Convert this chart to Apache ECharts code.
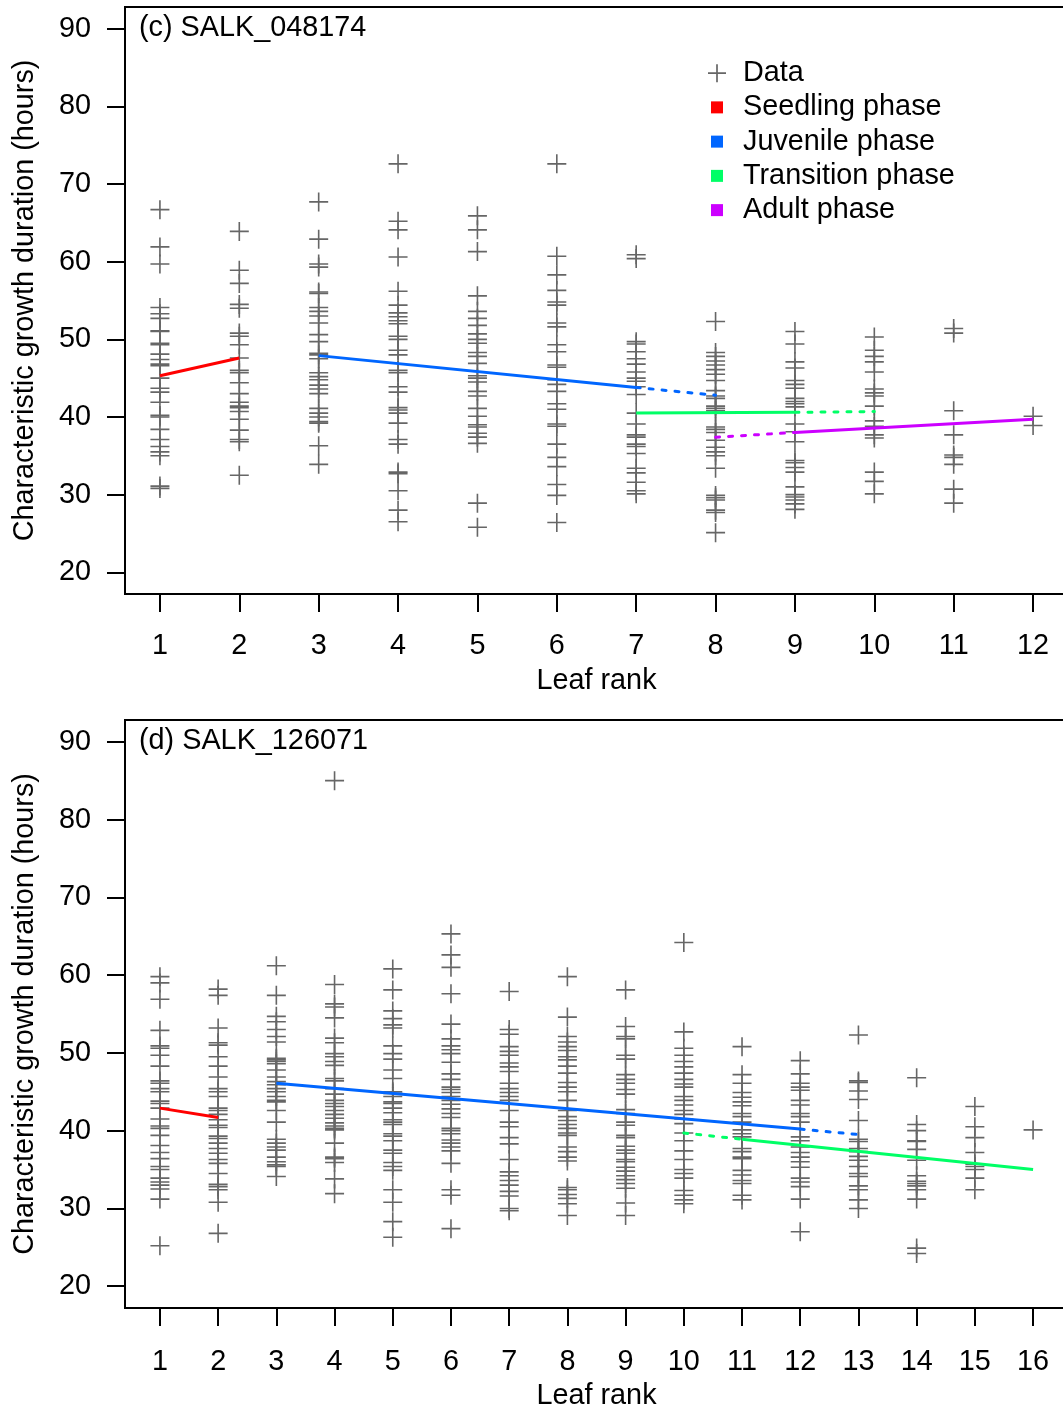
<!DOCTYPE html>
<html>
<head>
<meta charset="utf-8">
<script src="https://cdn.jsdelivr.net/npm/echarts@6/dist/echarts.min.js"></script>
<style>
html,body{margin:0;padding:0;background:#fff;overflow:hidden;width:1063px;height:1412px;}
#chart{width:1075px;height:1412px;}
</style>
</head>
<body>
<div id="chart"></div>
<script>
// ---------- Panel (c) SALK_048174 : values per leaf rank ----------
const cRanks = [1,2,3,4,5,6,7,8,9,10,11,12];
const cValues = [
  [66.7,61.9,59.7,54.1,53.3,52.7,51.1,51.0,49.5,49.3,48.1,47.4,46.8,46.6,45.0,43.7,43.2,41.9,40.2,40.0,38.4,37.1,36.2,35.5,35.0,31.1,30.8],
  [63.9,58.9,57.2,54.5,54.0,50.8,50.4,49.3,47.6,46.0,45.7,44.4,43.0,41.9,41.4,41.2,40.7,39.7,38.3,37.1,36.8,32.5],
  [67.7,62.9,59.7,59.3,56.1,55.9,54.1,53.6,53.0,52.1,50.6,49.7,48.2,48.0,47.5,45.7,45.2,44.8,44.1,43.6,43.0,41.1,40.5,40.0,39.4,39.2,36.3,33.9],
  [72.6,65.2,64.1,60.6,56.2,54.4,53.4,52.9,52.4,52.0,50.4,50.0,48.6,48.0,46.0,45.7,43.9,43.2,41.2,40.9,40.5,39.2,37.1,36.5,32.9,32.7,30.5,28.0,26.5],
  [65.9,64.1,61.3,55.6,53.6,52.7,51.8,50.7,50.0,49.5,48.3,47.8,46.9,45.3,45.0,44.5,43.3,42.7,41.1,40.1,39.0,38.7,37.9,37.4,36.6,28.9,25.8],
  [72.6,60.7,58.3,56.3,54.8,54.4,52.1,51.6,49.3,48.4,46.7,46.4,44.8,44.2,43.3,41.7,41.0,39.1,38.8,36.5,34.8,33.6,31.3,29.9,26.4],
  [60.9,60.4,49.7,49.4,48.4,47.5,46.8,45.8,45.0,44.6,43.9,42.9,40.5,39.1,37.7,37.4,36.5,36.2,35.3,33.4,32.8,31.6,30.5,30.1],
  [52.3,48.3,47.8,47.2,46.7,46.1,45.5,44.7,43.4,42.7,42.4,41.4,41.1,40.8,38.7,38.4,38.0,37.0,36.1,35.5,35.0,33.4,29.9,29.6,29.3,28.0,27.7,25.1],
  [51.0,49.4,47.1,46.3,44.7,44.2,43.7,42.4,42.0,41.7,41.3,39.1,38.1,36.8,34.4,34.1,33.5,32.9,31.0,30.0,29.7,29.3,28.8,28.1],
  [50.3,48.6,47.8,47.1,45.8,43.6,43.1,42.7,41.4,39.5,38.8,37.7,37.3,32.9,31.7,30.1],
  [51.4,50.8,40.8,37.7,35.1,34.8,33.9,30.7,28.9],
  [40.1,38.9]
];
const cSeedling = [[1,45.3],[2,47.6]];
const cJuvenile = [[3,47.9],[7,43.8]];
const cJuvenileExt = [[7,43.8],[8,42.8]];
const cTransition = [[7,40.5],[9,40.6]];
const cTransitionExt = [[9,40.6],[10,40.7]];
const cAdultExt = [[8,37.4],[9,38.0]];
const cAdult = [[9,38.0],[12,39.7]];

// ---------- Panel (d) SALK_126071 ----------
const dRanks = [1,2,3,4,5,6,7,8,9,10,11,12,13,14,15,16];
const dValues = [
  [59.8,59.0,56.9,52.9,50.9,50.6,49.7,48.3,46.4,46.1,45.4,45.0,43.8,43.5,42.9,41.5,40.6,40.3,39.4,38.1,37.2,36.4,35.4,35.0,33.9,33.4,33.0,32.5,31.2,25.2],
  [58.2,57.4,53.2,51.3,51.0,49.5,48.3,46.9,45.4,45.0,44.4,42.9,42.6,42.1,41.4,40.7,40.4,39.3,39.0,38.4,37.7,37.1,36.3,35.8,34.5,33.1,32.8,32.4,30.8,26.8],
  [61.2,57.4,54.7,54.0,53.0,52.1,51.4,49.3,49.1,48.9,48.6,47.8,46.9,46.3,45.9,45.4,45.0,44.4,43.9,43.7,42.6,41.1,38.9,38.4,37.9,37.5,36.6,36.0,35.6,35.4,34.1],
  [85.0,58.8,56.3,55.9,54.5,51.9,51.3,49.9,49.5,48.9,48.4,46.7,46.4,45.4,44.7,43.9,43.5,43.1,42.6,42.1,41.6,41.0,40.6,40.3,40.1,38.4,36.6,36.4,35.9,33.8,31.9],
  [60.8,58.1,55.4,54.4,53.6,53.2,50.9,49.9,49.2,47.8,46.7,45.0,44.8,44.4,43.7,43.5,42.9,42.3,41.4,41.1,40.8,39.6,39.3,38.7,37.5,37.1,35.9,35.4,34.9,32.4,30.8,28.3,26.3],
  [65.3,62.6,61.0,57.6,53.7,51.8,50.9,50.4,49.9,48.8,47.3,46.6,45.6,45.3,44.9,44.4,43.9,43.4,42.8,42.2,41.7,40.3,40.0,39.6,38.8,38.4,37.9,37.4,35.8,32.4,31.7,27.4],
  [57.9,53.0,52.4,50.8,50.2,49.7,48.7,48.2,47.6,46.1,45.4,44.9,44.4,43.9,42.6,41.1,40.5,39.1,38.3,36.3,34.7,34.2,33.6,33.0,32.2,31.6,30.0,29.7],
  [59.8,54.6,52.1,51.4,50.8,50.3,49.5,49.1,48.3,47.4,46.2,45.6,45.0,43.9,42.6,41.8,41.3,40.8,40.3,39.7,39.4,37.9,37.3,36.6,36.1,32.7,32.4,31.8,31.3,30.6,29.1],
  [58.1,53.4,52.1,51.8,49.7,49.2,47.2,46.6,46.1,45.3,44.7,42.7,42.2,41.1,40.7,39.4,39.1,38.0,37.5,37.1,36.3,36.0,35.3,34.8,34.2,33.7,33.2,32.6,30.7,29.1],
  [64.2,52.7,50.6,49.7,48.9,48.2,47.4,46.6,46.0,45.6,44.4,43.9,43.3,42.6,42.1,41.5,40.9,39.7,38.7,37.4,36.3,35.0,34.5,33.9,32.3,31.7,31.1,30.6],
  [50.8,47.2,46.1,44.9,44.3,43.7,43.2,42.2,41.8,41.1,40.1,39.6,39.2,37.7,37.3,36.6,36.4,34.9,34.3,33.6,33.2,31.7,31.1],
  [49.0,47.3,46.1,45.6,45.2,43.9,43.3,42.2,41.8,41.1,39.2,38.7,37.9,37.2,36.6,36.0,35.3,33.9,33.4,32.8,31.2,27.0],
  [52.3,46.4,46.2,45.1,44.0,41.3,38.9,38.6,37.7,37.3,36.7,36.2,35.4,34.5,34.1,32.9,32.4,31.1,30.0],
  [46.8,40.8,40.0,38.7,38.6,37.6,36.2,34.2,33.5,33.2,32.9,32.4,31.2,24.9,24.2],
  [43.1,40.5,39.1,37.2,35.7,35.4,35.0,33.9,32.4],
  [40.1]
];
const dSeedling = [[1,42.9],[2,41.7]];
const dJuvenile = [[3,46.1],[12,40.2]];
const dJuvenileExt = [[12,40.2],[13,39.5]];
const dTransitionExt = [[10,39.7],[11,38.9]];
const dTransition = [[11,38.9],[16,35.0]];

const yTicks = [20,30,40,50,60,70,80,90];
const panelTitles = ['(c) SALK_048174', '(d) SALK_126071'];
const legendNames = ['Data','Seedling phase','Juvenile phase','Transition phase','Adult phase'];

// ---------- styling ----------
const FONT = 'Liberation Sans, Arial, sans-serif';
const FS = 28.8;
const C_RED = '#FF0000', C_BLUE = '#0066FF', C_GREEN = '#00FF66', C_PURPLE = '#CC00FF', C_DATA = '#666666';
const plusSymbol = 'path://M-0.85,-10H0.85V10H-0.85ZM-10,-0.85H10V0.85H-10Z';
const plusIcon = 'path://M0,0L0,0M31,18L31,18M9.15,0H10.85V18H9.15ZM1,8.15H19V9.85H1Z';
const sqIcon = 'path://M0,0L0,0M31,18L31,18M4,3H16V15H4Z';
const dotted = [4, 9];

function flatten(ranks, values) {
  const out = [];
  ranks.forEach((r, i) => values[i].forEach(v => out.push([r, v])));
  return out;
}

function xAxisCfg(gi, min, max, ticks, labelMargin, gap) {
  return {
    gridIndex: gi, type: 'value', min: min, max: max,
    axisLine: {show: false},
    splitLine: {show: false},
    axisTick: {show: true, length: 18, lineStyle: {color: '#000', width: 2}, customValues: ticks},
    axisLabel: {customValues: ticks, margin: labelMargin, fontSize: FS, color: '#000', fontFamily: FONT},
    name: 'Leaf rank', nameLocation: 'middle', nameGap: gap,
    nameTextStyle: {fontSize: FS, color: '#000', fontFamily: FONT}
  };
}
function yAxisCfg(gi) {
  return {
    gridIndex: gi, type: 'value', min: 17.2, max: 92.8,
    axisLine: {show: false},
    splitLine: {show: false},
    axisTick: {show: true, length: 18, lineStyle: {color: '#000', width: 2}, customValues: yTicks},
    axisLabel: {customValues: yTicks, margin: 34, fontSize: FS, color: '#000', fontFamily: FONT},
    name: 'Characteristic growth duration (hours)', nameLocation: 'middle', nameGap: 85, nameRotate: 90,
    nameTextStyle: {fontSize: FS, color: '#000', fontFamily: FONT}
  };
}
function lineSeries(name, gi, data, color, dashed) {
  return {
    name: name, type: 'line', xAxisIndex: gi, yAxisIndex: gi, data: data,
    symbol: 'none', showSymbol: false, silent: true, z: 5, color: color,
    itemStyle: {color: color},
    lineStyle: {color: color, width: 3, type: dashed ? dotted : 'solid', cap: dashed ? 'round' : 'butt'}
  };
}
function scatterSeries(gi, data) {
  return {
    name: 'Data', type: 'scatter', xAxisIndex: gi, yAxisIndex: gi, data: data,
    symbol: plusSymbol, symbolSize: 19, silent: true, z: 2,
    color: C_DATA, itemStyle: {color: C_DATA, opacity: 1}
  };
}

const chart = echarts.init(document.getElementById('chart'), null, {renderer: 'canvas'});
chart.setOption({
  animation: false,
  backgroundColor: '#fff',
  title: [
    {text: panelTitles[0], left: 139, top: 14, padding: 0, textStyle: {fontSize: FS, fontWeight: 'normal', color: '#000', fontFamily: FONT}},
    {text: panelTitles[1], left: 139, top: 727, padding: 0, textStyle: {fontSize: FS, fontWeight: 'normal', color: '#000', fontFamily: FONT}}
  ],
  legend: {
    orient: 'vertical', left: 707, top: 56, padding: 0,
    itemWidth: 31, itemHeight: 18, itemGap: 0, selectedMode: false,
    itemStyle: {borderWidth: 0},
    textStyle: {fontSize: FS, color: '#000', fontFamily: FONT, lineHeight: 34.25},
    data: [
      {name: legendNames[0], icon: plusIcon},
      {name: legendNames[1], icon: sqIcon},
      {name: legendNames[2], icon: sqIcon},
      {name: legendNames[3], icon: sqIcon},
      {name: legendNames[4], icon: sqIcon}
    ]
  },
  grid: [
    {left: 125, top: 7, width: 943, height: 587, show: true, borderColor: '#000', borderWidth: 2, backgroundColor: 'transparent'},
    {left: 125, top: 720, width: 943, height: 588, show: true, borderColor: '#000', borderWidth: 2, backgroundColor: 'transparent'}
  ],
  xAxis: [xAxisCfg(0, 0.56, 12.44, cRanks, 38, 73), xAxisCfg(1, 0.4, 16.6, dRanks, 40, 74)],
  yAxis: [yAxisCfg(0), yAxisCfg(1)],
  series: [
    scatterSeries(0, flatten(cRanks, cValues)),
    lineSeries('Seedling phase', 0, cSeedling, C_RED, false),
    lineSeries('Juvenile phase', 0, cJuvenile, C_BLUE, false),
    lineSeries('Transition phase', 0, cTransition, C_GREEN, false),
    lineSeries('Adult phase', 0, cAdult, C_PURPLE, false),
    lineSeries('Juvenile phase (extension)', 0, cJuvenileExt, C_BLUE, true),
    lineSeries('Transition phase (extension)', 0, cTransitionExt, C_GREEN, true),
    lineSeries('Adult phase (extension)', 0, cAdultExt, C_PURPLE, true),
    scatterSeries(1, flatten(dRanks, dValues)),
    lineSeries('Seedling phase', 1, dSeedling, C_RED, false),
    lineSeries('Juvenile phase', 1, dJuvenile, C_BLUE, false),
    lineSeries('Transition phase', 1, dTransition, C_GREEN, false),
    lineSeries('Juvenile phase (extension)', 1, dJuvenileExt, C_BLUE, true),
    lineSeries('Transition phase (extension)', 1, dTransitionExt, C_GREEN, true)
  ]
});
</script>
</body>
</html>
